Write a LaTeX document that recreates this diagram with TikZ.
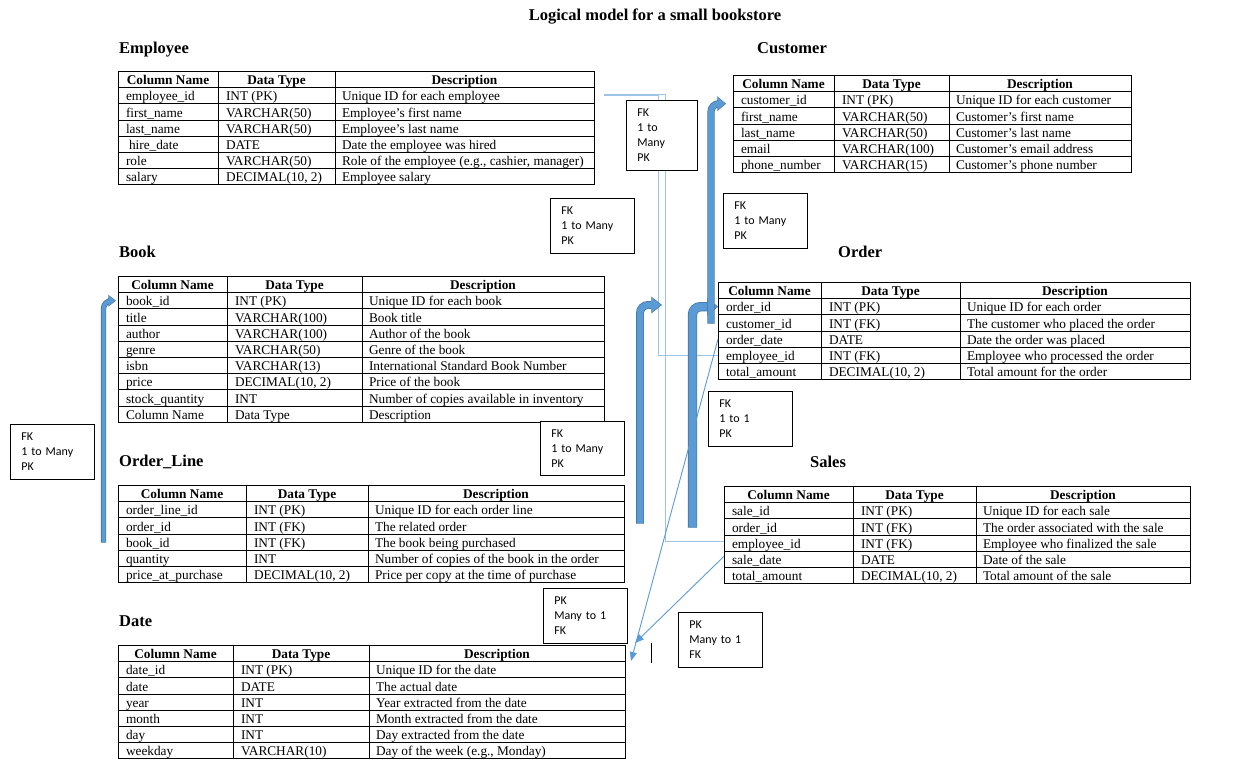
\documentclass[tikz,border=0pt]{standalone}
\usepackage{fontspec}
\setmainfont{Liberation Serif}
\newfontfamily\calibri{Carlito}
\usetikzlibrary{arrows.meta}

\definecolor{arrowblue}{HTML}{5B9BD5}
\definecolor{arrowdark}{HTML}{41719C}
\definecolor{paleblue}{HTML}{9DC3E6}

\tikzset{
  dbcell/.style={draw=black, line width=0.8pt, anchor=north west, inner sep=0pt, outer sep=0pt,
    minimum height=16.2pt, text height=11pt, text depth=0.5pt, font=\fontsize{13.3}{15}\selectfont},
  tablabel/.style={anchor=base west, inner sep=0pt, font=\bfseries\fontsize{16.5}{19}\selectfont},
  relbox/.style={draw=black, line width=0.8pt, fill=white, anchor=north west, align=left,
    inner xsep=11pt, inner ysep=0pt, font=\calibri\fontsize{12}{15}\selectfont},
  paleline/.style={draw=paleblue, line width=1pt},
  thinarrow/.style={draw=arrowblue, line width=0.9pt, -{Triangle[length=9pt, width=7pt]}},
}

% table: name, x left, x col 2, x col 3, x right, y top, rows
\newcommand{\dbtable}[7]{%
  \pgfmathsetmacro{\wa}{#3-#2}%
  \pgfmathsetmacro{\wb}{#4-#3}%
  \pgfmathsetmacro{\wc}{#5-#4}%
  \node[dbcell, minimum width=\wa pt, minimum height=16.6pt] (#1-0-1) at (#2,#6) {\makebox[\wa pt][c]{\bfseries Column Name}};
  \node[dbcell, minimum width=\wb pt, minimum height=16.6pt] (#1-0-2) at (#3,#6) {\makebox[\wb pt][c]{\bfseries Data Type}};
  \node[dbcell, minimum width=\wc pt, minimum height=16.6pt] (#1-0-3) at (#4,#6) {\makebox[\wc pt][c]{\bfseries Description}};
  \foreach \cn/\ct/\cd [count=\rn] in {#7}{%
    \pgfmathsetmacro{\ry}{#6+16.6+(\rn-1)*16.2}%
    \node[dbcell, minimum width=\wa pt] (#1-\rn-1) at (#2,\ry) {\makebox[\wa pt][l]{\hspace{8pt}\cn}};
    \node[dbcell, minimum width=\wb pt] (#1-\rn-2) at (#3,\ry) {\makebox[\wb pt][l]{\hspace{8pt}\ct}};
    \node[dbcell, minimum width=\wc pt] (#1-\rn-3) at (#4,\ry) {\makebox[\wc pt][l]{\hspace{7pt}\cd}};
  }%
}

% thick bent arrow: foot, tip, shaft width, head length, head width
\newcommand{\blockarrow}[5]{%
  \pgfmathsetmacro{\bwo}{#3+1.4}%
  \pgfmathsetmacro{\blo}{#4+1.6}%
  \pgfmathsetmacro{\bho}{#5+2.6}%
  \draw[draw=arrowdark, line width=\bwo pt, rounded corners=8pt, shorten <=-0.7pt,
    -{Triangle[length=\blo pt, width=\bho pt, line width=0pt]}] (#1) |- (#2);
  \draw[draw=arrowblue, line width=#3pt, rounded corners=8pt, shorten >=0.8pt,
    -{Triangle[length=#4pt, width=#5pt, line width=0pt]}] (#1) |- (#2);
}

\begin{document}
\begin{tikzpicture}[x=1pt, y=-1pt]
\useasboundingbox (0,0) rectangle (1234,772);
\fill[white] (0,0) rectangle (1234,772);

\node[anchor=base, inner sep=0pt, font=\bfseries\fontsize{16.5}{19}\selectfont] (title) at (655,20) {Logical model for a small bookstore};

% tables
\node[tablabel] (emplabel) at (119,53) {Employee};
\dbtable{emp}{118}{218}{335}{594}{71}{
  employee\_id/INT (PK)/Unique ID for each employee,
  first\_name/VARCHAR(50)/Employee’s first name,
  last\_name/VARCHAR(50)/Employee’s last name,
  \hspace*{3pt}hire\_date/DATE/Date the employee was hired,
  role/VARCHAR(50)/{Role of the employee (e.g., cashier, manager)},
  salary/{DECIMAL(10, 2)}/Employee salary}

\node[tablabel] (custlabel) at (757,53) {Customer};
\dbtable{cust}{733}{834}{949}{1131}{75}{
  customer\_id/INT (PK)/Unique ID for each customer,
  first\_name/VARCHAR(50)/Customer’s first name,
  last\_name/VARCHAR(50)/Customer’s last name,
  email/VARCHAR(100)/Customer’s email address,
  phone\_number/VARCHAR(15)/Customer’s phone number}

\node[tablabel] (booklabel) at (119,257) {Book};
\dbtable{book}{118}{227}{362}{604}{276}{
  book\_id/INT (PK)/Unique ID for each book,
  title/VARCHAR(100)/Book title,
  author/VARCHAR(100)/Author of the book,
  genre/VARCHAR(50)/Genre of the book,
  isbn/VARCHAR(13)/International Standard Book Number,
  price/{DECIMAL(10, 2)}/Price of the book,
  stock\_quantity/INT/Number of copies available in inventory,
  Column Name/Data Type/Description}

\node[tablabel] (orderlabel) at (838,257) {Order};
\dbtable{order}{718}{821}{960}{1190}{282}{
  order\_id/INT (PK)/Unique ID for each order,
  customer\_id/INT (FK)/The customer who placed the order,
  order\_date/DATE/Date the order was placed,
  employee\_id/INT (FK)/Employee who processed the order,
  total\_amount/{DECIMAL(10, 2)}/Total amount for the order}

\node[tablabel] (olinelabel) at (119,466) {Order\_Line};
\dbtable{oline}{118}{246}{368}{624}{485}{
  order\_line\_id/INT (PK)/Unique ID for each order line,
  order\_id/INT (FK)/The related order,
  book\_id/INT (FK)/The book being purchased,
  quantity/INT/Number of copies of the book in the order,
  price\_at\_purchase/{DECIMAL(10, 2)}/Price per copy at the time of purchase}

\node[tablabel] (saleslabel) at (810,467) {Sales};
\dbtable{sales}{724}{853}{976}{1190}{486}{
  sale\_id/INT (PK)/Unique ID for each sale,
  order\_id/INT (FK)/The order associated with the sale,
  employee\_id/INT (FK)/Employee who finalized the sale,
  sale\_date/DATE/Date of the sale,
  total\_amount/{DECIMAL(10, 2)}/Total amount of the sale}

\node[tablabel] (datelabel) at (119,626) {Date};
\dbtable{date}{118}{233}{369}{625}{645}{
  date\_id/INT (PK)/Unique ID for the date,
  date/DATE/The actual date,
  year/INT/Year extracted from the date,
  month/INT/Month extracted from the date,
  day/INT/Day extracted from the date,
  weekday/VARCHAR(10)/{Day of the week (e.g., Monday)}}

% links from employee
\draw[paleline] ([xshift=10pt,yshift=1.5pt]emp-1-3.east) -| ([xshift=-59pt,yshift=2pt]sales-3-1.west) -- ([yshift=2pt]sales-3-1.west);
\draw[paleline] ([xshift=10pt]emp-1-3.east) -| ([xshift=-60pt]order-4-1.west) -- (order-4-1.west);

% thick arrows
\coordinate (bookfoot) at (103.5,542);
\coordinate (midfoot) at (640,523);
\coordinate (midtip) at (662,305);
\coordinate (orderfoot) at (692.5,527);
\coordinate (custfoot) at (711,323);
\blockarrow{bookfoot}{[xshift=-2pt]book-1-1.west}{4}{6}{9}
\blockarrow{midfoot}{midtip}{6.5}{9}{14}
\blockarrow{orderfoot}{order-1-1.west}{8}{9}{15}
\blockarrow{custfoot}{[xshift=-7pt,yshift=-4pt]cust-1-1.west}{5.7}{7}{12}

% links to date
\coordinate (datetipA) at (631,661);
\coordinate (datetipB) at (635,643);
\draw[thinarrow] (order-3-1.west) -- (datetipA);
\draw[thinarrow] ([yshift=3pt]sales-4-1.west) -- (datetipB);
\draw[line width=0.8pt] (651,643) -- (651,663);

% relation boxes
\node[relbox, text width=49pt, minimum height=70pt] (fkA) at (626,100) {FK\\1 to\\Many\\PK};
\node[relbox, text width=62pt, minimum height=55pt] (fkB) at (550,198) {FK\\1 to Many\\PK};
\node[relbox, text width=62pt, minimum height=55pt] (fkC) at (723,193) {FK\\1 to Many\\PK};
\node[relbox, text width=62pt, minimum height=55pt] (fkD) at (10,424) {FK\\1 to Many\\PK};
\node[relbox, text width=62pt, minimum height=54pt] (fkE) at (540,421) {FK\\1 to Many\\PK};
\node[relbox, text width=62pt, minimum height=55pt] (fkF) at (708,391) {FK\\1 to 1\\PK};
\node[relbox, text width=62pt, minimum height=55pt] (pkA) at (543,588) {PK\\Many to 1\\FK};
\node[relbox, text width=62pt, minimum height=55pt] (pkB) at (678,612) {PK\\Many to 1\\FK};

\end{tikzpicture}
\end{document}
